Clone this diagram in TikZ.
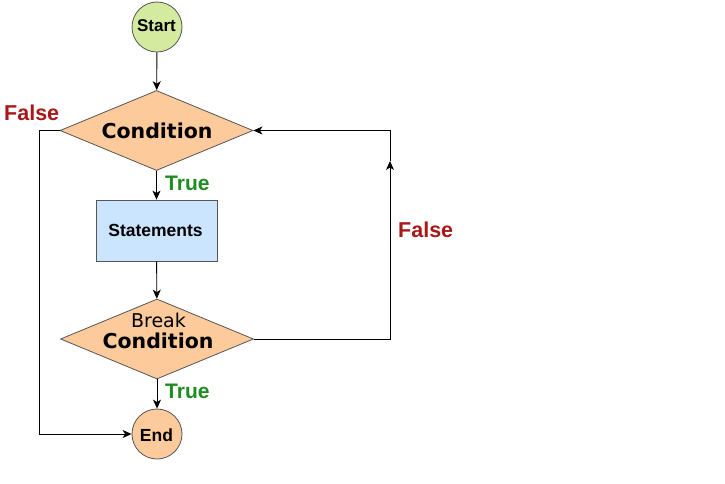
\documentclass[tikz,border=0pt]{standalone}
\usepackage{fontspec}
\setmainfont{Liberation Sans}
\newfontfamily\dvs{DejaVu Sans}
\usetikzlibrary{shapes.geometric,arrows.meta}
\definecolor{peach}{HTML}{FDCB9B}
\definecolor{lgreen}{HTML}{D3EA9F}
\definecolor{lblue}{HTML}{CCE5FF}
\definecolor{tgreen}{HTML}{1E8C1E}
\definecolor{fred}{HTML}{A81818}
\definecolor{edge}{HTML}{555555}
\begin{document}
\begin{tikzpicture}[x=1pt,y=-1pt,
  shapeline/.style={draw=edge,line width=0.8pt},
  termbox/.style={shapeline,circle,minimum size=50pt,inner sep=0pt},
  decbox/.style={shapeline,diamond,fill=peach,minimum width=193pt,minimum height=80pt,inner sep=0pt},
  procbox/.style={shapeline,rectangle,fill=lblue,minimum width=121pt,minimum height=61pt,inner sep=0pt},
  conn/.style={draw=black,line width=0.9pt,-{Stealth[length=9pt,width=8pt,inset=2.5pt]}},
  txt/.style={inner sep=0pt,anchor=base},
  truelbl/.style={inner sep=0pt,anchor=base west,text=tgreen,font=\fontsize{21}{21}\selectfont\bfseries},
  falselbl/.style={inner sep=0pt,anchor=base west,text=fred,font=\fontsize{21.5}{21.5}\selectfont\bfseries}
]
\useasboundingbox[fill=white] (0,0) rectangle (725,484);

\node[termbox,fill=lgreen] (start) at (157,27) {};
\node[decbox] (cond) at (156.5,130.5) {};
\node[procbox] (stm) at (156.5,230.5) {};
\node[decbox] (brk) at (157,339) {};
\node[termbox,fill=peach] (end) at (157,434) {};

\node[txt,font=\fontsize{17}{17}\selectfont\bfseries] (tstart) at (156.5,32) {Start};
\node[txt,font=\dvs\fontsize{20.5}{20.5}\selectfont\bfseries] (tcond) at (157,139) {Condition};
\node[txt,font=\fontsize{17.5}{17.5}\selectfont\bfseries] (tstm) at (155.5,236.5) {Statements};
\node[txt,font=\dvs\fontsize{19}{19}\selectfont] (tbrk) at (158.5,327) {Break};
\node[txt,font=\dvs\fontsize{20.5}{20.5}\selectfont\bfseries] (tcond2) at (158,348) {Condition};
\node[txt,font=\fontsize{17.5}{17.5}\selectfont\bfseries] (tend) at (156.5,441) {End};

\node[falselbl] (f1) at (4,121) {False};
\node[truelbl] (t1) at (165,190) {True};
\node[truelbl] (t2) at (165,398) {True};
\node[falselbl] (f2) at (398,237) {False};

\coordinate (lt) at (39.5,130.5);
\coordinate (lb) at (39.5,434);
\coordinate (rb) at (390,339);
\coordinate (rm) at (390,161);
\coordinate (rt) at (390,130.5);

\draw[conn] (start) -- (cond);
\draw[conn] (cond) -- (stm);
\draw[conn] (stm) -- (brk);
\draw[conn] (brk) -- (end);
\draw[conn] (cond.west) -- (lt) -- (lb) -- (end.west);
\draw[conn] (brk.east) -- (rb) -- (rm);
\draw[conn] (rm) -- (rt) -- (cond.east);
\end{tikzpicture}
\end{document}
